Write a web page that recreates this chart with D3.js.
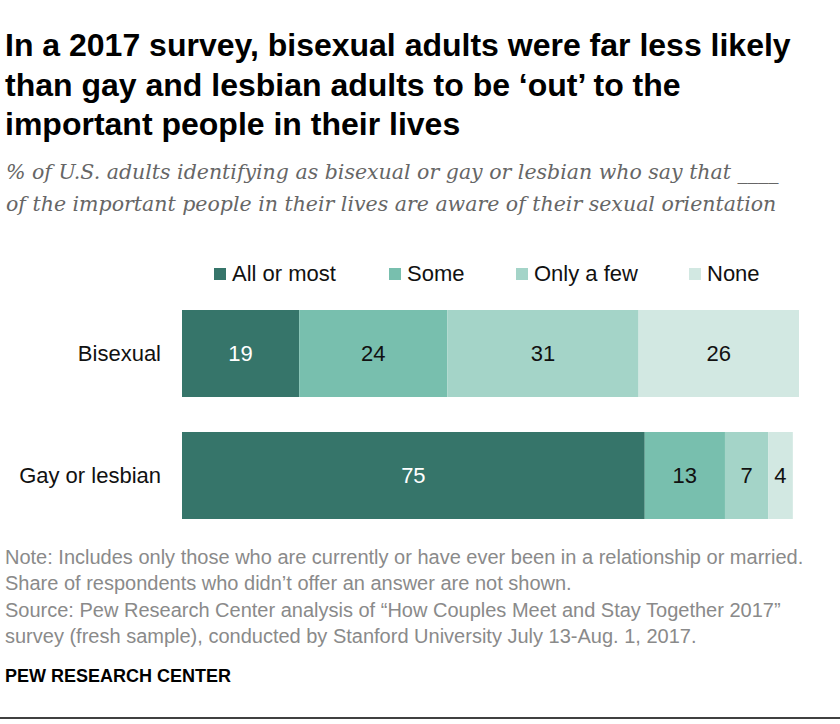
<!DOCTYPE html>
<html>
<head>
<meta charset="utf-8">
<script src="https://cdn.jsdelivr.net/npm/d3@7"></script>
<style>
  body { margin: 0; background: #fff; }
  svg text { font-family: "Liberation Sans", Arial, sans-serif; }
</style>
</head>
<body>
<div id="chart"></div>
<script>
// data
var groups = ["Bisexual", "Gay or lesbian"];
var answers = ["All or most", "Some", "Only a few", "None"];
var bisexual = [19, 24, 31, 26];
var gayLesbian = [75, 13, 7, 4];
var colours = ["#36756a", "#78bfae", "#a4d4c8", "#d2e8e2"];

var title = ["In a 2017 survey, bisexual adults were far less likely",
  "than gay and lesbian adults to be \u2018out\u2019 to the",
  "important people in their lives"];
var subtitle = ["% of U.S. adults identifying as bisexual or gay or lesbian who say that ____",
  "of the important people in their lives are aware of their sexual orientation"];
var notes = ["Note: Includes only those who are currently or have ever been in a relationship or married.",
  "Share of respondents who didn\u2019t offer an answer are not shown.",
  "Source: Pew Research Center analysis of \u201cHow Couples Meet and Stay Together 2017\u201d",
  "survey (fresh sample), conducted by Stanford University July 13-Aug. 1, 2017."];

var rows = [bisexual, gayLesbian];

var width = 840, height = 724;

var svg = d3.select('#chart').append('svg')
  .attr('width', width)
  .attr('height', height);

svg.append('rect')
  .attr('width', width)
  .attr('height', height)
  .attr('fill', 'white');

// title
svg.append('g').selectAll('text')
  .data(title)
  .enter().append('text')
  .attr('x', 5)
  .attr('y', function (d, i) { return 56 + i * 39.5; })
  .style('font-size', '32px')
  .style('font-weight', 'bold')
  .attr('fill', '#000')
  .text(function (d) { return d; });

// subtitle
svg.append('g').selectAll('text')
  .data(subtitle)
  .enter().append('text')
  .attr('x', 6)
  .attr('y', function (d, i) { return 179 + i * 32; })
  .style('font-family', '"DejaVu Serif", Georgia, serif')
  .style('font-style', 'italic')
  .style('font-size', '20.5px')
  .attr('fill', '#666')
  .text(function (d) { return d; });

var x = d3.scaleLinear().domain([0, 100]).range([182, 799]);
var y = d3.scaleBand().domain(groups).range([310, 519]).paddingInner(0.287).paddingOuter(0);

// legend
var legendX = [214, 389, 516, 689];
var legend = svg.append('g').selectAll('g')
  .data(answers)
  .enter().append('g')
  .attr('transform', function (d, i) { return 'translate(' + legendX[i] + ',268)'; });
legend.append('rect')
  .attr('width', 12)
  .attr('height', 12)
  .attr('fill', function (d, i) { return colours[i]; });
legend.append('text')
  .attr('x', 18)
  .attr('y', 13)
  .style('font-size', '22px')
  .attr('fill', '#111')
  .text(function (d) { return d; });

// category labels
svg.append('g').selectAll('text')
  .data(groups)
  .enter().append('text')
  .attr('x', 161)
  .attr('y', function (d) { return y(d) + y.bandwidth() / 2; })
  .attr('dy', '0.35em')
  .attr('text-anchor', 'end')
  .style('font-size', '22px')
  .attr('fill', '#111')
  .text(function (d) { return d; });

// bars
var rowG = svg.append('g').selectAll('g')
  .data(rows)
  .enter().append('g')
  .attr('transform', function (d, i) { return 'translate(0,' + y(groups[i]) + ')'; });

var segs = rowG.selectAll('g')
  .data(function (vals) {
    var cum = 0;
    return vals.map(function (v, j) {
      var s = { v: v, j: j, x0: cum, x1: cum + v };
      cum += v;
      return s;
    });
  })
  .enter().append('g');

segs.append('rect')
  .attr('x', function (d) { return x(d.x0); })
  .attr('width', function (d) { return x(d.x1) - x(d.x0); })
  .attr('height', y.bandwidth())
  .attr('fill', function (d) { return colours[d.j]; });

segs.append('text')
  .attr('x', function (d) { return (x(d.x0) + x(d.x1)) / 2; })
  .attr('y', y.bandwidth() / 2)
  .attr('dy', '0.35em')
  .attr('text-anchor', 'middle')
  .style('font-size', '22px')
  .attr('fill', function (d) { return d.j === 0 ? '#fff' : '#111'; })
  .text(function (d) { return d.v; });

// notes
svg.append('g').selectAll('text')
  .data(notes)
  .enter().append('text')
  .attr('x', 5)
  .attr('y', function (d, i) { return 564 + i * 26.3; })
  .style('font-size', '20px')
  .attr('fill', '#8a8a8a')
  .text(function (d) { return d; });

svg.append('text')
  .attr('x', 5)
  .attr('y', 682)
  .style('font-size', '18px')
  .style('font-weight', 'bold')
  .attr('fill', '#000')
  .text('PEW RESEARCH CENTER');

svg.append('line')
  .attr('x1', 0)
  .attr('x2', width)
  .attr('y1', 718)
  .attr('y2', 718)
  .style('stroke', '#000')
  .style('stroke-width', 1.5);
</script>
</body>
</html>
